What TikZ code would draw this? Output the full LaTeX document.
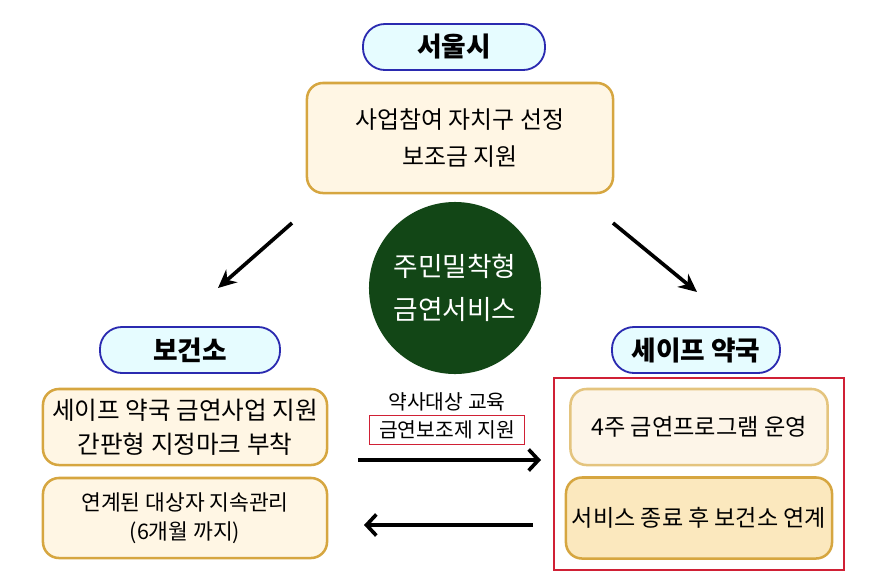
\documentclass[tikz,border=0pt]{standalone}
\usepackage{fontspec}
\setmainfont{Noto Sans CJK KR}
\usetikzlibrary{arrows.meta,positioning,fit}
\definecolor{pillblue}{HTML}{2A2AB0}
\definecolor{pillfill}{HTML}{E6FCFF}
\definecolor{boxgold}{HTML}{D6A640}
\definecolor{boxfill}{HTML}{FFF6E4}
\definecolor{softgold}{HTML}{E4C47E}
\definecolor{softfill}{HTML}{FDF5E8}
\definecolor{deepfill}{HTML}{FBE8BE}
\definecolor{framered}{HTML}{D02035}
\definecolor{darkgreen}{HTML}{124616}

\begin{document}
\begin{tikzpicture}[x=0.025cm, y=-0.025cm, font=\fontsize{17}{26}\selectfont,
      pill/.style={draw=pillblue, fill=pillfill, line width=1.3pt, rounded corners=0.55cm,
                   minimum height=1.15cm, font=\fontsize{19}{20}\selectfont\bfseries},
      task/.style={draw=boxgold, fill=boxfill, line width=1.8pt, rounded corners=0.4cm, align=center},
      arr/.style={line width=2.6pt, -{Stealth[length=13pt,width=12pt]}},
      flow/.style={line width=2.6pt, -{Straight Barb[length=7pt,width=15pt]}}]
      \useasboundingbox (0,0) rectangle (889,581);

      % top
      \node[pill, name=seoul, minimum width=4.55cm] at (454,47) {서울시};
      \node[task, name=fund, minimum width=7.65cm, minimum height=2.75cm] at (460,138)
         {사업참여 자치구 선정\\보조금 지원};

      % centre
      \node[circle, fill=darkgreen, minimum size=4.3cm, text=white, align=center,
            font=\fontsize{19}{31}\selectfont, name=core] at (455,288) {주민밀착형\\금연서비스};

      % health centre
      \node[pill, name=health, minimum width=4.5cm] at (190,350) {보건소};
      \node[task, name=hc1, minimum width=7.1cm, minimum height=1.9cm,
            font=\fontsize{17.5}{24}\selectfont] at (185,427) {세이프 약국 금연사업 지원\\간판형 지정마크 부착};
      \node[task, name=hc2, minimum width=7.1cm, minimum height=2cm,
            font=\fontsize{15.3}{21}\selectfont] at (185,518) {연계된 대상자 지속관리\\(6개월 까지)};

      % pharmacy
      \node[pill, name=pharm, minimum width=4.2cm] at (696,350) {세이프 약국};
      \node[task, draw=softgold, fill=softfill, name=ph1, minimum width=6.425cm, minimum height=1.9cm,
            font=\fontsize{16.5}{24}\selectfont] at (699,427) {4주 금연프로그램 운영};
      \node[task, fill=deepfill, name=ph2, minimum width=6.65cm, minimum height=2.025cm,
            font=\fontsize{16.4}{24}\selectfont] at (699,518) {서비스 종료 후 보건소 연계};
      \node[draw=framered, line width=1.2pt, fit=(ph1)(ph2), inner xsep=0.26cm, inner ysep=0.25cm,
            name=pharmframe] {};

      % middle labels
      \node[font=\fontsize{14.5}{15}\selectfont, name=edu] at (447,402) {약사대상 교육};
      \node[draw=framered, line width=1.2pt, minimum width=3.875cm, minimum height=0.725cm,
            font=\fontsize{14.5}{15}\selectfont, name=aid] at (447,430) {금연보조제 지원};

      % arrow ends
      \coordinate (d1s) at (292,223);
      \coordinate (d1e) at (218,288);
      \coordinate (d2s) at (613,223);
      \coordinate (d2e) at (697,292);
      \coordinate (f1s) at (358,460);
      \coordinate (f1e) at (541,460);
      \coordinate (f2s) at (533,525);
      \coordinate (f2e) at (364,525);

      \path[arr]
         (d1s) edge (d1e)
         (d2s) edge (d2e);
      \path[flow]
         (f1s) edge (f1e)
         (f2s) edge (f2e);
   \end{tikzpicture}
\end{document}
